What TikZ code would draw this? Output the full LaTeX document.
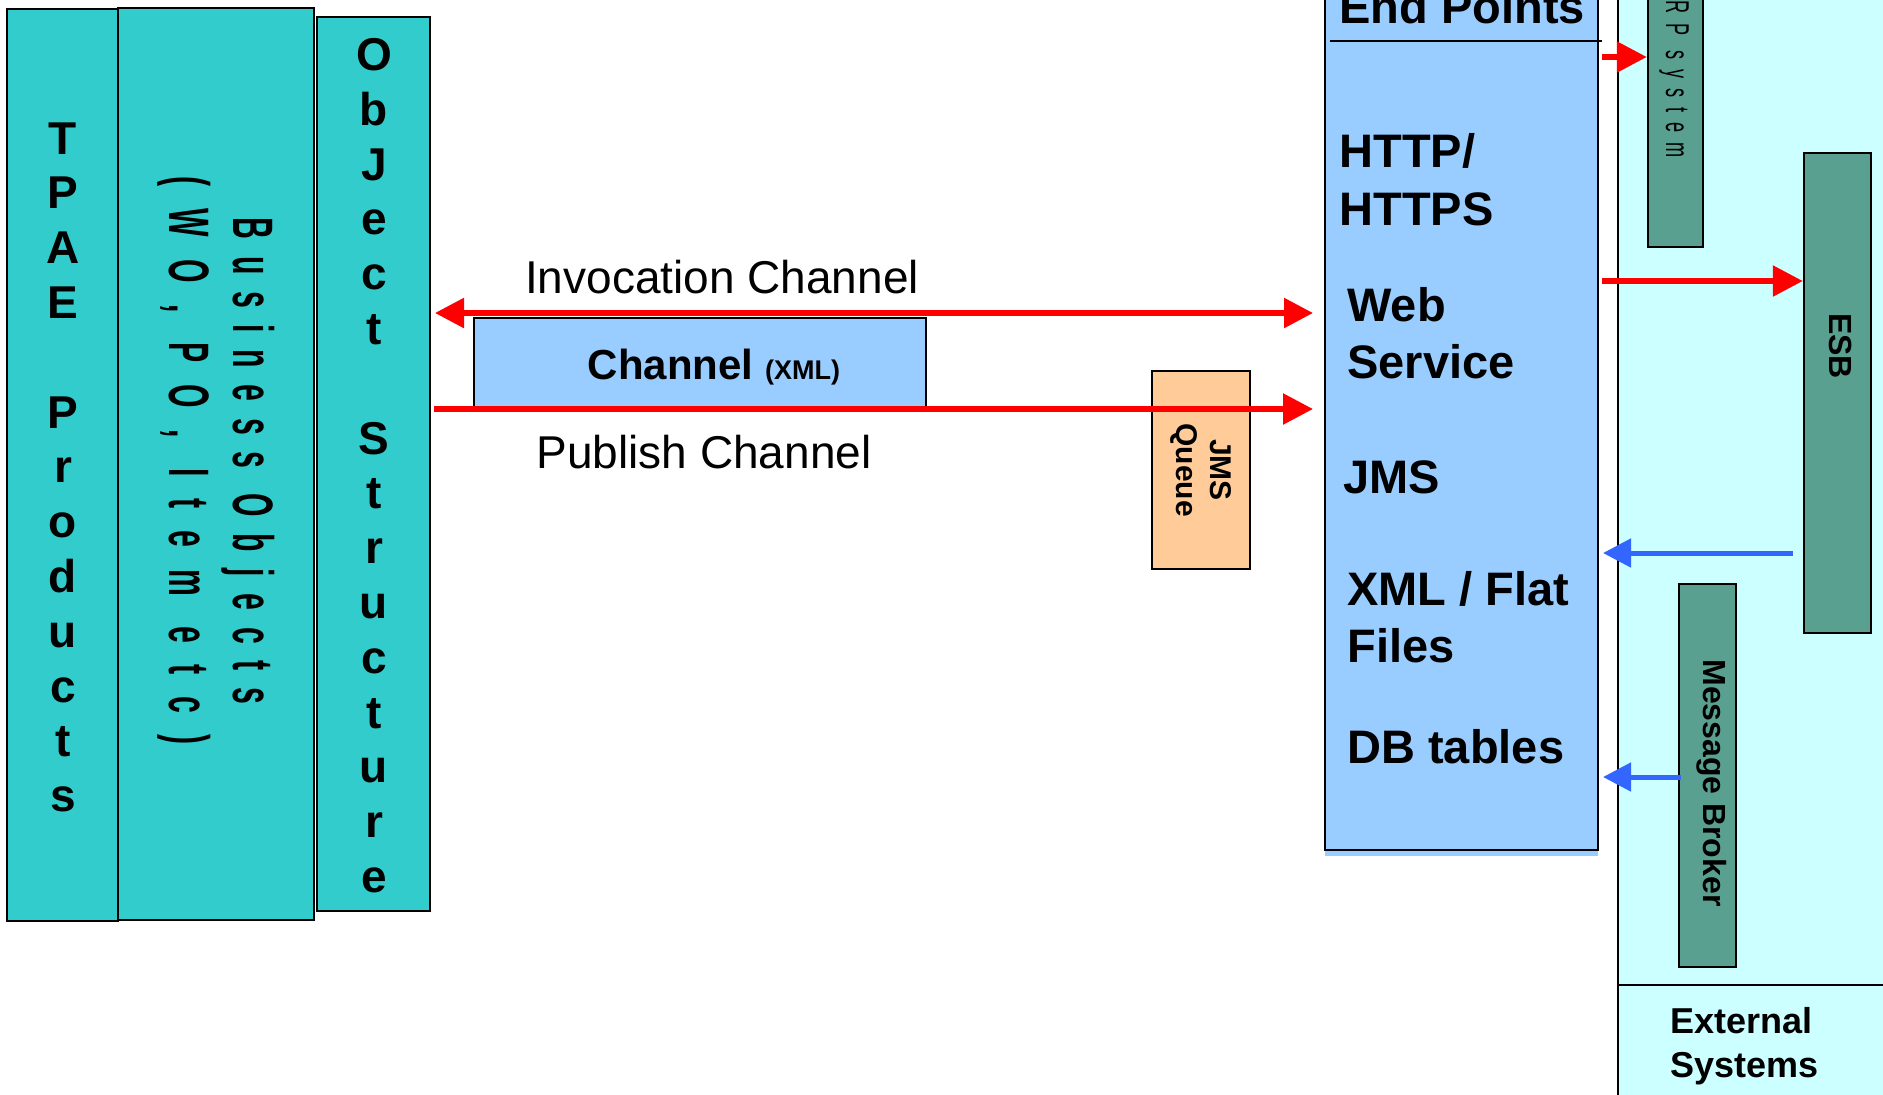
\documentclass[tikz,border=0pt]{standalone}
\usepackage{fontspec}
\setmainfont{Liberation Sans}
\newfontfamily\spacedfont{Liberation Sans}[LetterSpace=55]
\usetikzlibrary{positioning,arrows.meta,fit}

\definecolor{turq}{HTML}{33CCCC}
\definecolor{paleblue}{HTML}{99CCFF}
\definecolor{palecyan}{HTML}{CCFFFF}
\definecolor{sysgreen}{RGB}{89,160,144}
\definecolor{peach}{HTML}{FFCC99}
\definecolor{arrowblue}{HTML}{3366FF}

\begin{document}
\begin{tikzpicture}[x=0.5pt, y=-0.5pt,
        box/.style={draw=black, line width=1.35pt, inner sep=0pt},
        prodbox/.style={box, fill=turq},
        sysbox/.style={box, line width=1.2pt, fill=sysgreen},
        stack/.style={align=center, inner sep=0pt, anchor=north, font=\bfseries\fontsize{23}{27.4}\selectfont},
        eptext/.style={inner sep=0pt, anchor=base west, font=\bfseries\fontsize{23.5}{28}\selectfont},
        chantext/.style={anchor=base, inner sep=0pt, font=\fontsize{23}{27}\selectfont},
        redline/.style={draw=red, line width=2.75pt},
        redarrow/.style={redline, -{Triangle[length=15pt,width=15pt]}},
        bluearrow/.style={draw=arrowblue, line width=2.5pt, -{Triangle[length=14pt,width=14pt]}}]
        \useasboundingbox (0,0) rectangle (1883,1094);
        \clip (0,0) rectangle (1883,1094);
        \fill[white] (0,0) rectangle (1883,1094);

        % product side
        \node[prodbox, fit={(7,9) (118,921)}] (tpae) {};
        \node[prodbox, fit={(118,8) (314,920)}] (busobj) {};
        \node[prodbox, fit={(317,17) (430,911)}] (objstruct) {};
        \node[stack] (tpae-text) at (63,122) {T\\P\\A\\E\\[27.4pt]P\\r\\o\\d\\u\\c\\t\\s};
        \node[stack] (objstruct-text) at (374,38) {O\\b\\J\\e\\c\\t\\[27.4pt]S\\t\\r\\u\\c\\t\\u\\r\\e};
        \node[rotate=-90, inner sep=0pt, font=\spacedfont\bfseries\fontsize{28.5}{32}\selectfont] (busobj-text) at (214,461)
            {\scalebox{0.53}[1]{\begin{tabular}{@{}c@{}}Business Objects\\\addfontfeature{LetterSpace=72}(WO, PO, Item etc)\end{tabular}}};

        % channels
        \node[box, line width=0.85pt, fill=paleblue, fit={(474,318) (926,409)}] (channel) {};
        \node[anchor=base, inner sep=0pt, font=\bfseries\fontsize{21}{24}\selectfont] (channel-text) at (714,379)
            {Channel {\fontsize{13.5}{15}\selectfont (XML)}};
        \node[chantext] (inv-text) at (722,293) {Invocation Channel};
        \node[chantext] (pub-text) at (704,468) {Publish Channel};
        \node[box, line width=1pt, fill=peach, fit={(1152,371) (1250,569)}] (jmsq) {};
        \node[rotate=-90, align=center, inner sep=0pt, font=\bfseries\fontsize{15}{17}\selectfont] (jmsq-text) at (1201,470) {JMS\\Queue};

        % end points
        \fill[paleblue] (1325,-20) rectangle (1598,856);
        \node[box, fill=paleblue, fit={(1325,-20) (1598,850)}] (endpoints) {};
        \draw[line width=0.9pt] (1330,41) -- (1602,41);
        \node[eptext] (ep-title) at (1339,23) {End Points};
        \node[eptext] (http) at (1339,167) {HTTP/};
        \node[eptext] (https) at (1339,225) {HTTPS};
        \node[eptext] (web) at (1347,321) {Web};
        \node[eptext] (service) at (1347,378) {Service};
        \node[eptext] (jms) at (1343,493) {JMS};
        \node[eptext] (xml) at (1347,605) {XML / Flat};
        \node[eptext] (files) at (1347,662) {Files};
        \node[eptext] (db) at (1347,763) {DB tables};

        % external systems
        \node[box, line width=1pt, fill=palecyan, fit={(1618,-20) (1910,1120)}] (external) {};
        \coordinate (ext-sep) at (1618,985);
        \draw[line width=1pt] (ext-sep) -- (ext-sep -| external.east);
        \node[eptext, font=\bfseries\fontsize{18}{22}\selectfont] (ext-1) at (1670,1033) {External};
        \node[eptext, font=\bfseries\fontsize{18}{22}\selectfont] (ext-2) at (1670,1077) {Systems};
        \node[sysbox, fit={(1648,-150) (1703,247)}] (erp) {};
        \node[sysbox, fit={(1804,153) (1871,633)}] (esb) {};
        \node[sysbox, fit={(1679,584) (1736,967)}] (broker) {};
        \node[rotate=-90, inner sep=0pt, font=\spacedfont\fontsize{16.5}{19}\selectfont] (erp-text) at (1674,68)
            {\scalebox{0.55}[1]{ERP system}};
        \node[rotate=-90, inner sep=0pt, font=\bfseries\fontsize{16}{19}\selectfont] (esb-text) at (1840,346) {ESB};
        \node[rotate=-90, inner sep=0pt, font=\bfseries\fontsize{16}{19}\selectfont] (broker-text) at (1712,783) {Message Broker};

        % connectors
        \coordinate (inv-l) at (435,313);
        \coordinate (inv-r) at (1313,313);
        \coordinate (pub-l) at (434,409);
        \coordinate (pub-r) at (1313,409);
        \coordinate (erp-out) at (1602,57);
        \coordinate (esb-out) at (1602,281);
        \coordinate (esb-in) at (1603,553);
        \coordinate (broker-in) at (1603,777);
        \draw[redline, {Triangle[length=14.5pt,width=14.5pt]}-{Triangle[length=14.5pt,width=14.5pt]}] (inv-l) -- (inv-r);
        \draw[redarrow] (pub-l) -- (pub-r);
        \draw[redarrow] (erp-out) -- (erp-out -| erp.west);
        \draw[redarrow] (esb-out) -- (esb-out -| esb.west);
        \draw[bluearrow] ([xshift=-5pt]esb.west |- esb-in) -- (esb-in);
        \draw[bluearrow] ([xshift=1.5pt]broker.west |- broker-in) -- (broker-in);
      \end{tikzpicture}
\end{document}
